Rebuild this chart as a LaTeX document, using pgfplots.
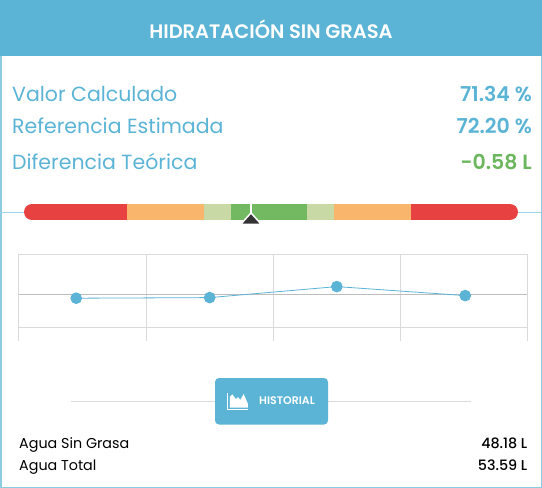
\documentclass[border=0pt]{standalone}
\usepackage{fontspec}
\setmainfont{Poppins}
\IfFontExistsTF{Poppins SemiBold}{\newfontfamily\sbf{Poppins SemiBold}}{\newcommand\sbf{\bfseries}}
\IfFontExistsTF{Poppins Medium}{\newfontfamily\mdf{Poppins Medium}}{\newcommand\mdf{\bfseries}}
\usepackage{pgfplots}
\pgfplotsset{compat=1.18}
\definecolor{hdr}{HTML}{5BB4D6}
\definecolor{brd}{HTML}{8CCBE2}
\definecolor{gline}{HTML}{9ED3E6}
\definecolor{gred}{HTML}{E84141}
\definecolor{gorange}{HTML}{F8B56B}
\definecolor{glgreen}{HTML}{C9D9A6}
\definecolor{ggreen}{HTML}{72B962}
\definecolor{vgreen}{HTML}{6CB65E}
\definecolor{dark}{HTML}{333333}
\definecolor{gridgray}{HTML}{DADADA}
\definecolor{midgray}{HTML}{BDBDBD}
\begin{document}
\begin{tikzpicture}[x=1pt,y=-1pt]
\path[use as bounding box] (0,0) rectangle (542,488);
\fill[white] (0,0) rectangle (542,488);
\fill[hdr] (0,0) rectangle (542,56);
\draw[brd, line width=1.5pt] (0.75,56) -- (0.75,487.25) -- (541.25,487.25) -- (541.25,56);
\node[text=white, font=\fontsize{19.5}{19}\sbf] at (271,29) {HIDRATACIÓN SIN GRASA};
% labels
\node[anchor=base west, inner sep=0, text=hdr, font=\fontsize{20.5}{20}\selectfont] at (12,101.7) {Valor Calculado};
\node[anchor=base west, inner sep=0, text=hdr, font=\fontsize{20.5}{20}\selectfont] at (12,133.3) {Referencia Estimada};
\node[anchor=base west, inner sep=0, text=hdr, font=\fontsize{20.5}{20}\selectfont] at (12,169.3) {Diferencia Teórica};
\node[anchor=base east, inner sep=0, text=hdr, font=\fontsize{20.5}{20}\sbf] at (532,101.7) {71.34 \%};
\node[anchor=base east, inner sep=0, text=hdr, font=\fontsize{20.5}{20}\sbf] at (532,133.3) {72.20 \%};
\node[anchor=base east, inner sep=0, text=vgreen, font=\fontsize{20.5}{20}\sbf] at (532,169.3) {-0.58 L};
% gauge
\begin{axis}[at={(0pt,-220pt)}, anchor=south west, width=542pt, height=16pt, scale only axis,
  xmin=0, xmax=542, ymin=0, ymax=1, axis lines=none, clip=false]
\addplot[gline, line width=1pt] coordinates {(0,0.5) (542,0.5)};
\addplot[gred, line width=16pt, line cap=round] coordinates {(32,0.5) (127,0.5)};
\addplot[gred, line width=16pt, line cap=round] coordinates {(411,0.5) (510,0.5)};
\addplot[gorange, line width=16pt] coordinates {(127,0.5) (204,0.5)};
\addplot[glgreen, line width=16pt] coordinates {(204,0.5) (231,0.5)};
\addplot[ggreen, line width=16pt] coordinates {(231,0.5) (307,0.5)};
\addplot[glgreen, line width=16pt] coordinates {(307,0.5) (334,0.5)};
\addplot[gorange, line width=16pt] coordinates {(334,0.5) (411,0.5)};
\addplot[white, line width=1.5pt] coordinates {(251,1) (251,0.44)};
\addplot[fill=dark, draw=white, line width=1.5pt, line join=round] coordinates {(240.5,-0.28) (251,0.44) (261.5,-0.28) (240.5,-0.28)};
\end{axis}
% history chart
\begin{axis}[at={(19pt,-254pt)}, anchor=north west, width=508.5pt, height=87pt, scale only axis,
  xmin=0, xmax=4, ymin=69.85, ymax=74.20, axis line style={draw=none}, tick style={draw=none},
  xtick={0,1,2,3,4}, ytick={74.20,70.55}, xticklabels={}, yticklabels={},
  grid=major, major grid style={gridgray, line width=1pt}, clip=false]
\addplot[midgray, line width=1pt] coordinates {(0,72.20) (4,72.20)};
\addplot[hdr, line width=0.8pt, mark=*, mark size=5.4pt, mark options={fill=hdr, draw=none}]
  coordinates {(0.45,71.99) (1.5,72.02) (2.5,72.57) (3.51,72.12)};
\end{axis}
% historial button
\draw[gridgray, line width=1pt] (71,401.3) -- (471,401.3);
\fill[hdr, rounded corners=4pt] (215,378) rectangle (328,424.5);
\draw[white, line width=1pt] (227.8,393) -- (227.8,409) -- (248.3,409);
\fill[white] (229.8,407.6) -- (229.8,397) -- (232.3,394.3) -- (235.8,399) -- (238.2,397.2) -- (240.3,400) -- (243.6,394) -- (247.8,403.5) -- (247.8,407.6) -- cycle;
\node[anchor=west, inner sep=0, text=white, font=\fontsize{11}{11}\sbf] at (259,400.7) {HISTORIAL};
% bottom values
\node[anchor=base west, inner sep=0, text=black, font=\fontsize{14.3}{14}\selectfont] at (19,448.3) {Agua Sin Grasa};
\node[anchor=base west, inner sep=0, text=black, font=\fontsize{14.3}{14}\selectfont] at (19,470.7) {Agua Total};
\node[anchor=base east, inner sep=0, text=black, font=\fontsize{14.3}{14}\mdf] at (527.5,448.3) {48.18 L};
\node[anchor=base east, inner sep=0, text=black, font=\fontsize{14.3}{14}\mdf] at (527.5,470.7) {53.59 L};
\end{tikzpicture}
\end{document}
